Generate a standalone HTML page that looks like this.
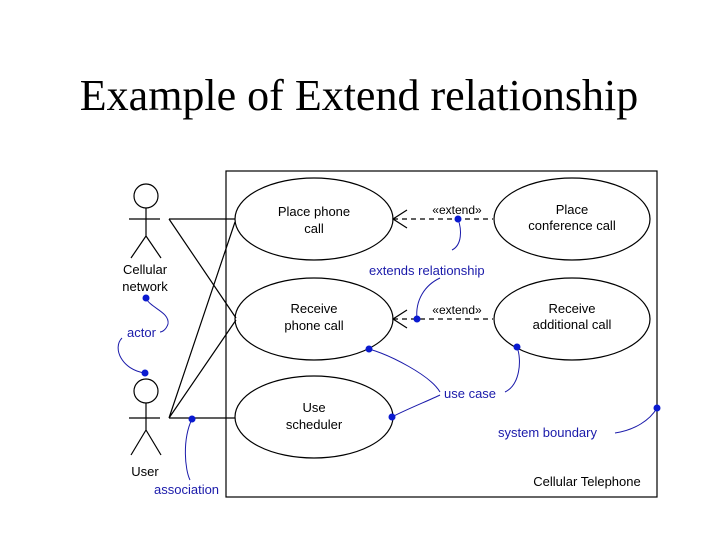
<!DOCTYPE html>
<html><head><style>
body{margin:0;background:#fff;width:720px;height:540px;overflow:hidden}
</style></head><body>
<svg width="720" height="540" xmlns="http://www.w3.org/2000/svg">
<text x="359" y="110" text-anchor="middle" font-family="Liberation Serif,serif" font-size="44">Example of Extend relationship</text>
<g fill="none" stroke="#000" stroke-width="1.2">
<rect x="226" y="171" width="431" height="326"/>
<ellipse cx="314" cy="219" rx="79" ry="41"/>
<ellipse cx="314" cy="319" rx="79" ry="41"/>
<ellipse cx="314" cy="417" rx="79" ry="41"/>
<ellipse cx="572" cy="219" rx="78" ry="41"/>
<ellipse cx="572" cy="319" rx="78" ry="41"/>
<circle cx="146" cy="196" r="12"/>
<path d="M146 208V236M129 219H160M146 236L131 258M146 236L161 258"/>
<circle cx="146" cy="391" r="12"/>
<path d="M146 403V430M129 418H160M146 430L131 455M146 430L161 455"/>
<path d="M169 219H235M169 219L236 318M169 418L235 222M169 418L236 320M169 418H235"/>
<path d="M393 219H493M393 319H493" stroke-dasharray="5,4"/>
<path d="M407 210L393 219L407 228M407 310L393 319L407 328"/>
</g>
<g font-family="Liberation Sans,sans-serif" font-size="13" text-anchor="middle">
<text x="314" y="216">Place phone</text><text x="314" y="233">call</text>
<text x="314" y="313">Receive</text><text x="314" y="330">phone call</text>
<text x="314" y="412">Use</text><text x="314" y="429">scheduler</text>
<text x="572" y="214">Place</text><text x="572" y="230">conference call</text>
<text x="572" y="313">Receive</text><text x="572" y="329">additional call</text>
<text x="145" y="274">Cellular</text><text x="145" y="291">network</text>
<text x="145" y="476">User</text>
<text x="457" y="214" font-size="12">«extend»</text>
<text x="457" y="314" font-size="12">«extend»</text>
<text x="587" y="486">Cellular Telephone</text>
</g>
<g fill="none" stroke="#1a1aaa" stroke-width="1">
<path d="M146 298C150 308 170 312 168 324C166 330 162 332 160 332"/>
<path d="M122 338C112 348 122 370 145 373"/>
<path d="M458 219C462 230 462 245 452 250"/>
<path d="M440 278C425 285 415 300 417 319"/>
<path d="M369 349C390 355 430 375 440 392"/>
<path d="M392 417C405 410 430 400 440 395"/>
<path d="M517 347C522 360 520 385 505 392"/>
<path d="M657 408C650 420 635 430 615 433"/>
<path d="M192 419C182 440 185 470 190 480"/>
</g>
<g fill="#0a1ad0">
<circle cx="146" cy="298" r="3.5"/><circle cx="145" cy="373" r="3.5"/>
<circle cx="458" cy="219" r="3.5"/><circle cx="417" cy="319" r="3.5"/>
<circle cx="369" cy="349" r="3.5"/><circle cx="392" cy="417" r="3.5"/>
<circle cx="517" cy="347" r="3.5"/><circle cx="657" cy="408" r="3.5"/>
<circle cx="192" cy="419" r="3.5"/>
</g>
<g font-family="Liberation Sans,sans-serif" font-size="13" fill="#1a1aaa">
<text x="127" y="337">actor</text>
<text x="369" y="275">extends relationship</text>
<text x="444" y="398">use case</text>
<text x="498" y="437">system boundary</text>
<text x="154" y="494">association</text>
</g>
</svg>
</body></html>
